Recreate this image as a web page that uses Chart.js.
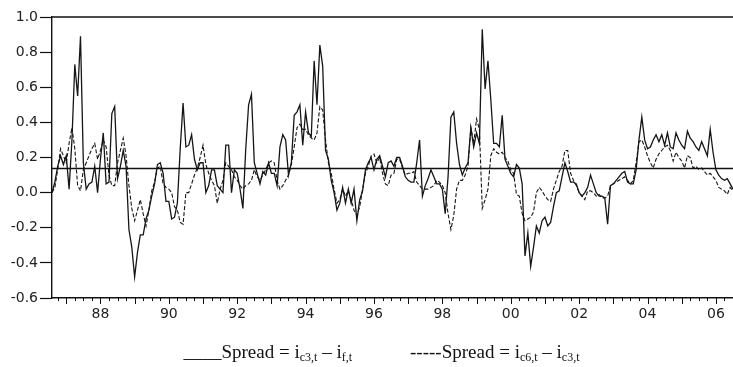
<!DOCTYPE html>
<html>
<head>
<meta charset="utf-8">
<script src="https://cdn.jsdelivr.net/npm/chart.js@4"></script>
<style>
  body { margin: 0; background: #fff; }
  #wrap { position: relative; width: 733px; height: 367px; }
  #legend {
    position: absolute; left: 0; top: 342px; width: 703px; padding-left: 30px; text-align: center;
    font-family: "Liberation Serif", "Times New Roman", serif; font-size: 19px; color: #111;
    line-height: 20px;
  }
  #legend sub { font-size: 12px; vertical-align: -3px; line-height: 0; }
  #legend .second { margin-left: 58px; }
</style>
</head>
<body>
<div id="wrap">
  <canvas class="chart" width="733" height="367"></canvas>
  <div id="legend"><span>____Spread = i<sub>c3,t</sub> &ndash; i<sub>f,t</sub></span><span class="second">-----Spread = i<sub>c6,t</sub> &ndash; i<sub>c3,t</sub></span></div>
</div>
<script>
// monthly, 1986M08 .. 2006M07
let startYear = 1986;
let startMonth = 8;
let yearLabels = ['88', '90', '92', '94', '96', '98', '00', '02', '04', '06'];
let yTicks = [-0.6, -0.4, -0.2, 0.0, 0.2, 0.4, 0.6, 0.8, 1.0];
let meanLevel = 0.14;

// Spread = i_c3 - i_f (solid)
let spreadC3F = [
  0.00, 0.06, 0.15, 0.21, 0.16, 0.21, 0.02, 0.30, 0.73, 0.55,
  0.89, 0.17, 0.02, 0.05, 0.06, 0.15, 0.00, 0.19, 0.34, 0.05,
  0.06, 0.45, 0.49, 0.08, 0.15, 0.24, 0.15, -0.21, -0.31, -0.48,
  -0.34, -0.24, -0.24, -0.15, -0.10, -0.02, 0.05, 0.16, 0.17, 0.11,
  -0.05, -0.05, -0.15, -0.14, -0.06, 0.25, 0.51, 0.26, 0.27, 0.33,
  0.19, 0.13, 0.17, 0.17, 0.00, 0.04, 0.13, 0.13, 0.04, 0.02,
  0.00, 0.27, 0.27, 0.00, 0.13, 0.11, 0.02, -0.09, 0.25, 0.50,
  0.56, 0.17, 0.11, 0.05, 0.12, 0.10, 0.17, 0.11, 0.11, 0.04,
  0.26, 0.33, 0.30, 0.10, 0.17, 0.44, 0.46, 0.50, 0.27, 0.46,
  0.34, 0.32, 0.75, 0.50, 0.84, 0.72, 0.24, 0.19, 0.07, 0.00,
  -0.10, -0.06, 0.03, -0.06, 0.02, -0.06, 0.02, -0.16, -0.04, 0.01,
  0.13, 0.17, 0.20, 0.13, 0.19, 0.21, 0.15, 0.09, 0.17, 0.18,
  0.15, 0.20, 0.20, 0.15, 0.09, 0.07, 0.06, 0.06, 0.17, 0.30,
  -0.02, 0.04, 0.08, 0.13, 0.09, 0.05, 0.05, 0.02, -0.12, 0.09,
  0.43, 0.46, 0.28, 0.16, 0.10, 0.14, 0.17, 0.37, 0.26, 0.34,
  0.28, 0.93, 0.59, 0.75, 0.53, 0.28, 0.28, 0.26, 0.44, 0.19,
  0.15, 0.11, 0.09, 0.16, 0.14, 0.05, -0.36, -0.23, -0.42, -0.31,
  -0.19, -0.23, -0.16, -0.14, -0.19, -0.17, -0.08, 0.00, 0.01, 0.09,
  0.17, 0.12, 0.06, 0.06, 0.05, 0.00, -0.02, 0.00, 0.03, 0.10,
  0.05, 0.00, -0.02, -0.02, -0.03, -0.18, 0.04, 0.05, 0.07, 0.09,
  0.11, 0.12, 0.06, 0.05, 0.05, 0.13, 0.30, 0.43, 0.30, 0.25,
  0.26, 0.30, 0.33, 0.29, 0.33, 0.27, 0.34, 0.26, 0.25, 0.34,
  0.30, 0.27, 0.25, 0.35, 0.31, 0.29, 0.26, 0.24, 0.29, 0.25,
  0.21, 0.36, 0.23, 0.13, 0.10, 0.08, 0.07, 0.08, 0.05, 0.02
];

// Spread = i_c6 - i_c3 (dashed)
let spreadC6C3 = [
  0.00, 0.03, 0.13, 0.25, 0.21, 0.17, 0.28, 0.37, 0.25, 0.04,
  0.01, 0.13, 0.17, 0.21, 0.25, 0.28, 0.19, 0.24, 0.30, 0.26,
  0.10, 0.04, 0.04, 0.17, 0.24, 0.31, 0.21, 0.04, -0.09, -0.16,
  -0.10, -0.04, -0.12, -0.19, -0.10, 0.01, 0.06, 0.14, 0.15, 0.05,
  0.03, 0.02, 0.00, -0.08, -0.10, -0.17, -0.18, 0.00, 0.00, 0.05,
  0.10, 0.14, 0.20, 0.27, 0.16, 0.11, 0.07, 0.04, -0.06, 0.02,
  0.07, 0.17, 0.15, 0.13, 0.09, 0.07, 0.04, 0.02, 0.04, 0.05,
  0.07, 0.13, 0.09, 0.07, 0.10, 0.13, 0.17, 0.18, 0.17, 0.07,
  0.02, 0.04, 0.07, 0.10, 0.16, 0.26, 0.37, 0.39, 0.36, 0.36,
  0.33, 0.31, 0.30, 0.34, 0.49, 0.47, 0.30, 0.17, 0.11, 0.02,
  -0.06, -0.04, 0.02, -0.02, 0.01, -0.04, -0.10, -0.13, -0.08, 0.02,
  0.11, 0.15, 0.21, 0.22, 0.17, 0.20, 0.11, 0.05, 0.04, 0.10,
  0.11, 0.19, 0.19, 0.14, 0.10, 0.11, 0.11, 0.12, 0.06, 0.04,
  0.02, 0.02, 0.02, 0.03, 0.04, 0.07, 0.06, 0.04, 0.00, -0.12,
  -0.21, -0.13, 0.02, 0.07, 0.07, 0.10, 0.15, 0.37, 0.28, 0.42,
  0.36, -0.09, -0.04, 0.02, 0.21, 0.25, 0.23, 0.22, 0.23, 0.20,
  0.18, 0.13, 0.11, -0.01, -0.02, -0.12, -0.16, -0.15, -0.14, -0.11,
  0.00, 0.03, 0.01, -0.02, -0.04, -0.05, 0.02, 0.07, 0.12, 0.15,
  0.24, 0.24, 0.11, 0.07, 0.04, 0.00, -0.02, -0.04, 0.01, 0.01,
  0.00, -0.02, -0.01, -0.03, -0.03, -0.02, 0.04, 0.05, 0.06, 0.07,
  0.08, 0.09, 0.07, 0.05, 0.07, 0.17, 0.29, 0.30, 0.26, 0.21,
  0.17, 0.14, 0.19, 0.22, 0.24, 0.26, 0.27, 0.24, 0.18, 0.23,
  0.20, 0.18, 0.14, 0.21, 0.20, 0.14, 0.15, 0.13, 0.14, 0.12,
  0.10, 0.11, 0.09, 0.07, 0.03, 0.02, 0.01, -0.01, 0.03, 0.01
];

let labels = [];
let monthOf = [];
for (let i = 0; i < spreadC3F.length; i++) {
  let m = (startMonth - 1 + i) % 12;
  let y = startYear + Math.floor((startMonth - 1 + i) / 12);
  labels.push(y + 'M' + String(m + 1).padStart(2, '0'));
  monthOf.push(m);
}

// box top line, mean line and quarterly / yearly ticks under the x axis
let framePlugin = {
  id: 'frame',
  afterDraw: function (chart) {
    let ctx = chart.ctx;
    let area = chart.chartArea;
    let x = chart.scales.x;
    let y = chart.scales.y;
    ctx.save();
    ctx.strokeStyle = '#111';
    ctx.lineWidth = 1.4;
    ctx.beginPath();
    ctx.moveTo(area.left, area.top);
    ctx.lineTo(area.right, area.top);
    let ym = Math.round(y.getPixelForValue(meanLevel)) + 0.5;
    ctx.moveTo(area.left, ym);
    ctx.lineTo(area.right, ym);
    ctx.stroke();
    ctx.lineWidth = 1;
    ctx.beginPath();
    for (let i = 0; i < labels.length; i++) {
      if (monthOf[i] % 3 !== 0) continue;
      let px = Math.round(x.getPixelForValue(i)) + 0.5;
      let len = monthOf[i] === 0 ? 6 : 3;
      ctx.moveTo(px, area.bottom);
      ctx.lineTo(px, area.bottom + len);
    }
    ctx.stroke();
    ctx.restore();
  }
};

let tickFont = { family: 'DejaVu Sans', size: 14 };

let options = {
  type: 'line',
  data: {
    labels: labels,
    datasets: [
      {
        label: 'Spread = ic3,t - if,t',
        data: spreadC3F,
        borderColor: '#151515',
        borderWidth: 1.3,
        pointRadius: 0,
        fill: false,
        tension: 0,
      },
      {
        label: 'Spread = ic6,t - ic3,t',
        data: spreadC6C3,
        borderColor: '#151515',
        borderWidth: 1.1,
        borderDash: [4, 2],
        pointRadius: 0,
        fill: false,
        tension: 0,
      },
    ],
  },
  options: {
    responsive: false,
    animation: false,
    layout: { padding: { top: 17, right: 0, left: 0, bottom: 0 } },
    plugins: { legend: { display: false }, tooltip: { enabled: false } },
    scales: {
      x: {
        type: 'category',
        offset: false,
        grid: { display: false },
        border: { color: '#111', width: 1.4 },
        ticks: {
          autoSkip: false,
          maxRotation: 0,
          padding: 0,
          color: '#222',
          font: tickFont,
          callback: function (v, i) {
            let lab = labels[i];
            let yr = Number(lab.slice(0, 4));
            if (monthOf[i] === 0 && yr % 2 === 0) {
              let s = String(yr).slice(2);
              return yearLabels.indexOf(s) >= 0 ? s : null;
            }
            return null;
          },
        },
        afterFit: function (s) { s.height = 69; },
      },
      y: {
        min: -0.6,
        max: 1.0,
        afterBuildTicks: function (s) { s.ticks = yTicks.map(function (v) { return { value: v }; }); },
        grid: { drawOnChartArea: false, tickLength: 12, color: '#111', tickWidth: 1.2 },
        border: { color: '#111', width: 1.4 },
        ticks: {
          padding: 2,
          color: '#222',
          font: tickFont,
          callback: function (v) { return v.toFixed(1); },
        },
        afterFit: function (s) { s.width = 52; },
      },
    },
  },
  plugins: [framePlugin],
};

let chart = new Chart(document.querySelector('.chart'), options);
</script>
</body>
</html>
